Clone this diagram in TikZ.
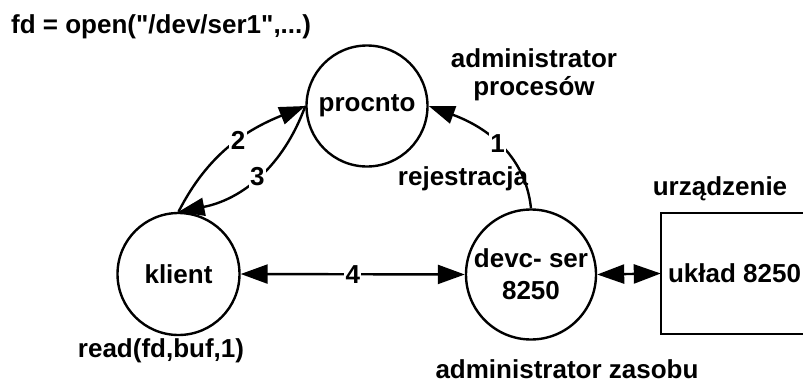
\documentclass[tikz,border=0pt]{standalone}
\usepackage{fontspec}
\setmainfont{Liberation Sans}[Ligatures=TeXOff]
\usetikzlibrary{arrows.meta}
\begin{document}
\begin{tikzpicture}[x=1pt,y=-1pt,
  txt/.style={font=\fontsize{26}{30}\selectfont\bfseries, inner sep=0pt},
  proc/.style={draw, circle, line width=2.4pt, inner sep=0pt, txt},
  link/.style={line width=2.4pt, -{Triangle[length=26pt,width=18pt]}},
  dlink/.style={line width=2.4pt, {Triangle[length=27pt,width=19pt]}-{Triangle[length=27pt,width=19pt]}},
  num/.style={txt, fill=white, inner sep=1.5pt}]
  % white page
  \fill[white] (0,0) rectangle (803,383);
  \useasboundingbox (0,0) rectangle (803,383);

  % processes
  \node[proc, minimum size=121pt] (procnto) at (367,106) {procnto};
  \node[proc, minimum size=122pt] (klient) at (178.5,274) {klient};
  \node[proc, minimum size=130pt, align=center] (devc) at (531,274.5)
       {devc- ser\\[2pt]8250};
  % hardware box, open on the right where it leaves the page
  \node[minimum width=142pt, minimum height=121pt, inner sep=0pt, txt]
       (uklad) at (732,273.5) {\hspace*{5pt}układ 8250};
  \draw[line width=2.4pt] (uklad.north east) -- (uklad.north west)
       -- (uklad.south west) -- (uklad.south east);

  % captions
  \node[txt, anchor=base west] (open) at (11,33) {fd = open("/dev/ser1",...)};
  \node[txt, anchor=base] (adm1) at (534,67) {administrator};
  \node[txt, anchor=base] (adm2) at (534,95) {procesów};
  \node[txt, anchor=base] (dev) at (720,195) {urządzenie};
  \node[txt, anchor=base] (rej) at (463,185) {rejestracja};
  \node[txt, anchor=base] (read) at (161,357) {read(fd,buf,1)};
  \node[txt, anchor=base] (zas) at (567,378) {administrator zasobu};

  % messages
  \draw[link] (devc.north) to[out=96,in=-20]
     node[num, pos=0.5] (n1) {1} (procnto.east);
  \draw[link] (klient.north) to[out=63,in=-158]
     node[num, pos=0.56] (n2) {2} (procnto.west);
  \draw[link] (procnto.west) to[out=250,in=11]
     node[num, pos=0.5] (n3) {3} (klient.north);
  \draw[dlink] (klient.east) -- node[num] (n4) {4} (devc.west);
  \draw[dlink] (devc.east) -- (uklad.west);
\end{tikzpicture}
\end{document}
